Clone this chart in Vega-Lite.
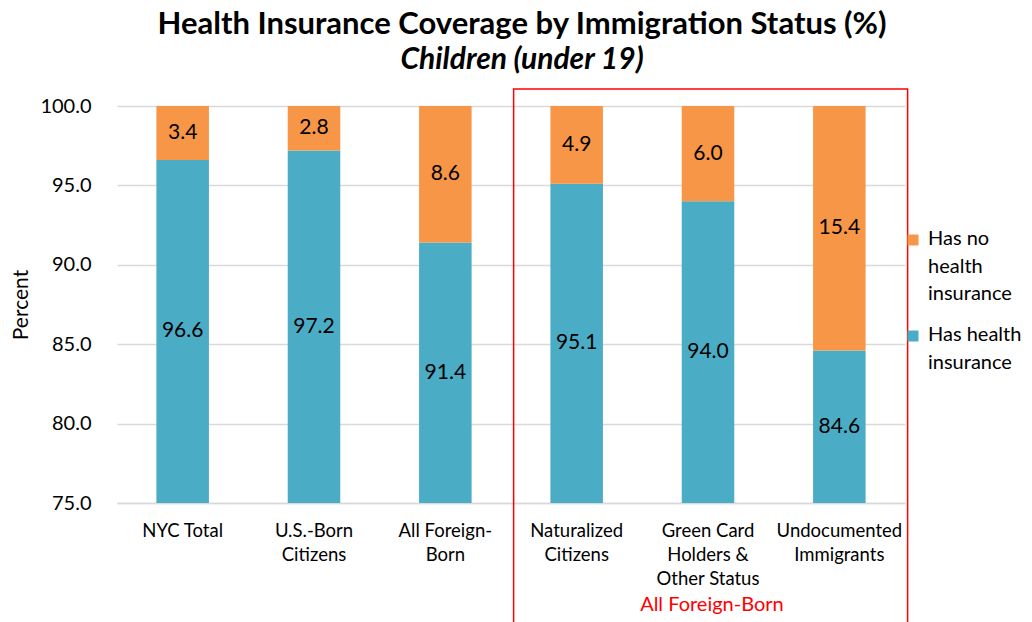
{
  "$schema": "https://vega.github.io/schema/vega-lite/v6.json",
  "width": 788,
  "height": 397,
  "autosize": {"type": "none"},
  "padding": {"left": 117, "top": 106, "right": 127, "bottom": 119},
  "background": "white",
  "config": {"font": "Lato", "view": {"stroke": null}},
  "title": {
    "text": "Health Insurance Coverage by Immigration Status (%)",
    "subtitle": "Children (under 19)",
    "fontSize": 31,
    "fontWeight": "bold",
    "color": "black",
    "subtitleFontSize": 30,
    "subtitleFontWeight": "bold",
    "subtitleFontStyle": "italic",
    "subtitleColor": "black",
    "subtitlePadding": 4,
    "anchor": "middle",
    "offset": 12,
    "dx": 11
  },
  "datasets": {
    "cov": [
      {"category": "NYC Total", "status": "Has health insurance", "value": 96.6},
      {"category": "NYC Total", "status": "Has no health insurance", "value": 3.4},
      {"category": "U.S.-Born Citizens", "status": "Has health insurance", "value": 97.2},
      {"category": "U.S.-Born Citizens", "status": "Has no health insurance", "value": 2.8},
      {"category": "All Foreign-Born", "status": "Has health insurance", "value": 91.4},
      {"category": "All Foreign-Born", "status": "Has no health insurance", "value": 8.6},
      {"category": "Naturalized Citizens", "status": "Has health insurance", "value": 95.1},
      {"category": "Naturalized Citizens", "status": "Has no health insurance", "value": 4.9},
      {"category": "Green Card Holders & Other Status", "status": "Has health insurance", "value": 94.0},
      {"category": "Green Card Holders & Other Status", "status": "Has no health insurance", "value": 6.0},
      {"category": "Undocumented Immigrants", "status": "Has health insurance", "value": 84.6},
      {"category": "Undocumented Immigrants", "status": "Has no health insurance", "value": 15.4}
    ],
    "box": [
      {"x": 3.02, "x2": 6.02, "y": 101.07, "y2": 67.0}
    ],
    "note": [
      {"x": 4.53, "y": 68.55, "text": "All Foreign-Born"}
    ]
  },
  "layer": [
    {
      "layer": [
        {
          "data": {"name": "cov"},
          "mark": {"type": "bar", "clip": true},
          "encoding": {
            "x": {
              "field": "category",
              "type": "nominal",
              "sort": ["NYC Total", "U.S.-Born Citizens", "All Foreign-Born", "Naturalized Citizens", "Green Card Holders & Other Status", "Undocumented Immigrants"],
              "scale": {"paddingInner": 0.6, "paddingOuter": 0.3},
              "axis": {
                "title": null,
                "labelAngle": 0,
                "labelFontSize": 18.5,
                "labelColor": "black",
                "labelPadding": 18,
                "labelLineHeight": 24,
                "labelBaseline": "top",
                "ticks": false,
                "domain": true,
                "domainColor": "#d9d9d9",
                "domainWidth": 1.5,
                "labelExpr": "datum.value == 'U.S.-Born Citizens' ? ['U.S.-Born', 'Citizens'] : datum.value == 'All Foreign-Born' ? ['All Foreign-', 'Born'] : datum.value == 'Naturalized Citizens' ? ['Naturalized', 'Citizens'] : datum.value == 'Green Card Holders & Other Status' ? ['Green Card', 'Holders &', 'Other Status'] : datum.value == 'Undocumented Immigrants' ? ['Undocumented', 'Immigrants'] : datum.value"
              }
            },
            "y": {
              "field": "value",
              "type": "quantitative",
              "stack": "zero",
              "scale": {"domain": [75, 100], "nice": false, "zero": false},
              "axis": {
                "title": "Percent",
                "titleFontSize": 21,
                "titleFontWeight": "normal",
                "titleColor": "black",
                "titlePadding": 8,
                "labelFontSize": 20,
                "labelColor": "black",
                "labelPadding": 26,
                "format": ".1f",
                "values": [75, 80, 85, 90, 95, 100],
                "grid": true,
                "gridColor": "#d9d9d9",
                "gridWidth": 1.5,
                "domain": false,
                "ticks": false
              }
            },
            "color": {
              "field": "status",
              "type": "nominal",
              "scale": {"domain": ["Has no health insurance", "Has health insurance"], "range": ["#F79646", "#4BACC6"]},
              "legend": {
                "title": null,
                "orient": "none",
                "legendX": 786,
                "legendY": 124,
                "symbolType": "square",
                "symbolSize": 121,
                "symbolStrokeWidth": 0,
                "labelFontSize": 20,
                "labelColor": "black",
                "labelBaseline": "top",
                "labelOffset": 5,
                "labelLimit": 200,
                "rowPadding": 21,
                "labelExpr": "datum.value == 'Has no health insurance' ? ['Has no', 'health', 'insurance'] : ['Has health', 'insurance']",
                "encode": {
                  "labels": {"update": {"lineHeight": {"value": 27.5}, "dy": {"value": -11}}}
                }
              }
            },
            "order": {"field": "status", "sort": "ascending"}
          }
        },
        {
          "data": {"name": "cov"},
          "transform": [
            {"stack": "value", "groupby": ["category"], "sort": [{"field": "status", "order": "ascending"}], "as": ["y0", "y1"]},
            {"calculate": "(max(datum.y0, 75) + datum.y1) / 2", "as": "mid"},
            {"calculate": "format(datum.value, '.1f')", "as": "lbl"}
          ],
          "mark": {"type": "text", "fontSize": 21, "color": "black", "baseline": "middle"},
          "encoding": {
            "x": {
              "field": "category",
              "type": "nominal",
              "sort": ["NYC Total", "U.S.-Born Citizens", "All Foreign-Born", "Naturalized Citizens", "Green Card Holders & Other Status", "Undocumented Immigrants"]
            },
            "y": {"field": "mid", "type": "quantitative"},
            "text": {"field": "lbl"}
          }
        }
      ]
    },
    {
      "layer": [
        {
          "data": {"name": "box"},
          "mark": {"type": "rect", "clip": false, "fill": null, "fillOpacity": 0, "stroke": "#FF0000", "strokeWidth": 1.5},
          "encoding": {
            "x": {"field": "x", "type": "quantitative", "scale": {"domain": [0, 6], "nice": false, "zero": false}, "axis": null},
            "x2": {"field": "x2"},
            "y": {"field": "y", "type": "quantitative", "scale": {"domain": [75, 100], "nice": false, "zero": false}, "axis": null},
            "y2": {"field": "y2"}
          }
        },
        {
          "data": {"name": "note"},
          "mark": {"type": "text", "clip": false, "fontSize": 20, "color": "#FF0000", "baseline": "middle"},
          "encoding": {
            "x": {"field": "x", "type": "quantitative", "scale": {"domain": [0, 6], "nice": false, "zero": false}, "axis": null},
            "y": {"field": "y", "type": "quantitative", "scale": {"domain": [75, 100], "nice": false, "zero": false}, "axis": null},
            "text": {"field": "text"}
          }
        }
      ]
    }
  ],
  "resolve": {"scale": {"x": "independent", "y": "independent"}}
}
